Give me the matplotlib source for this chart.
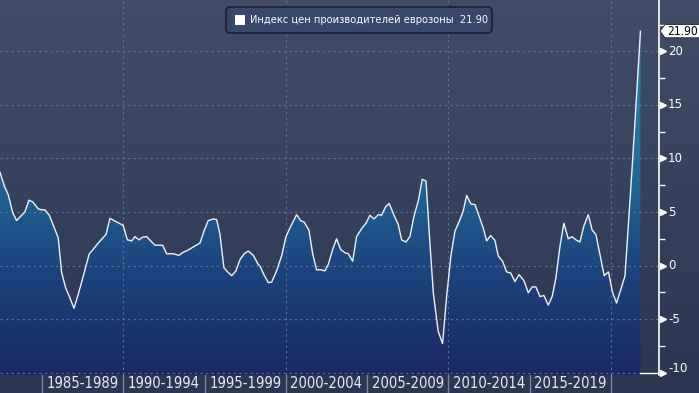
import numpy as np
import matplotlib
matplotlib.use('Agg')
import matplotlib.pyplot as plt
from matplotlib.colors import LinearSegmentedColormap
from matplotlib.patches import FancyBboxPatch, Polygon, Rectangle
from matplotlib import font_manager
from matplotlib.font_manager import FontProperties

# euro area producer prices, y/y %
years = [1982.42, 1982.72, 1982.93, 1983.20, 1983.44, 1983.75, 1983.95, 1984.20, 1984.43, 1984.77,
         1984.98, 1985.18, 1985.45, 1985.74, 1986.00, 1986.21, 1986.46, 1986.66, 1986.97, 1987.23,
         1987.54, 1987.91, 1988.15, 1988.46, 1988.94, 1989.18, 1989.49, 1990.00, 1990.25, 1990.52,
         1990.72, 1990.97, 1991.19, 1991.44, 1991.69, 1991.95, 1992.42, 1992.67, 1993.07, 1993.43,
         1993.69, 1993.94, 1994.21, 1994.72, 1994.96, 1995.23, 1995.54, 1995.74, 1995.95, 1996.19,
         1996.42, 1996.67, 1996.93, 1997.18, 1997.44, 1997.69, 1998.00, 1998.30, 1998.41, 1998.65,
         1998.92, 1999.13, 1999.43, 1999.74, 2000.01, 2000.25, 2000.66, 2000.91, 2001.13, 2001.42,
         2001.65, 2001.89, 2002.14, 2002.40, 2002.61, 2002.88, 2003.12, 2003.37, 2003.63, 2003.84,
         2004.11, 2004.35, 2004.66, 2004.93, 2005.17, 2005.42, 2005.68, 2005.89, 2006.14, 2006.36,
         2006.65, 2006.91, 2007.12, 2007.39, 2007.63, 2007.88, 2008.14, 2008.39, 2008.62, 2008.86,
         2009.07, 2009.37, 2009.64, 2009.89, 2010.15, 2010.40, 2010.71, 2010.91, 2011.12, 2011.38,
         2011.63, 2011.89, 2012.14, 2012.35, 2012.60, 2012.86, 2013.06, 2013.33, 2013.58, 2013.83,
         2014.09, 2014.34, 2014.64, 2014.91, 2015.15, 2015.38, 2015.63, 2015.87, 2016.14, 2016.38,
         2016.61, 2016.86, 2017.10, 2017.37, 2017.61, 2017.84, 2018.09, 2018.33, 2018.60, 2018.84,
         2019.07, 2019.32, 2019.58, 2019.84, 2020.10, 2020.34, 2020.61, 2020.86, 2021.12, 2021.33,
         2021.54, 2021.81]
values = [8.7, 7.3, 6.6, 4.95, 4.2, 4.7, 5.0, 6.1, 5.95, 5.3,
          5.2, 5.2, 4.7, 3.6, 2.6, -0.65, -2.1, -2.8, -4.0, -2.7,
          -1.0, 1.1, 1.5, 2.1, 2.9, 4.4, 4.15, 3.75, 2.4, 2.3,
          2.7, 2.4, 2.65, 2.7, 2.3, 1.9, 1.9, 1.1, 1.1, 0.95,
          1.25, 1.4, 1.65, 2.1, 3.2, 4.2, 4.35, 4.3, 2.9, -0.2,
          -0.6, -0.95, -0.5, 0.55, 1.1, 1.35, 0.95, 0.1, -0.05, -0.85,
          -1.6, -1.55, -0.5, 0.9, 2.7, 3.5, 4.75, 4.2, 4.05, 3.3,
          1.1, -0.4, -0.4, -0.5, 0.1, 1.5, 2.5, 1.5, 1.2, 1.1,
          0.4, 2.7, 3.45, 3.95, 4.7, 4.35, 4.75, 4.7, 5.5, 5.8,
          4.7, 3.85, 2.4, 2.2, 2.7, 4.6, 6.0, 8.05, 7.9, 2.1,
          -2.55, -6.15, -7.3, -2.9, 0.9, 3.2, 4.3, 5.1, 6.55, 5.75,
          5.7, 4.6, 3.5, 2.3, 2.8, 2.35, 0.9, 0.4, -0.6, -0.7,
          -1.5, -0.85, -1.4, -2.55, -2.0, -2.0, -2.9, -2.8, -3.7, -2.9,
          -1.15, 1.8, 3.95, 2.5, 2.7, 2.4, 2.2, 3.7, 4.75, 3.3,
          2.9, 1.0, -0.95, -0.6, -2.55, -3.5, -2.2, -0.95, 5.0, 9.9,
          15.2, 21.9]
series_name = 'Индекс цен производителей еврозоны'
last_label = '21.90'
period_starts = [1985, 1990, 1995, 2000, 2005, 2010, 2015]
period_labels = ['1985-1989', '1990-1994', '1995-1999', '2000-2004',
                 '2005-2009', '2010-2014', '2015-2019']
y_ticks = [-10, -5, 0, 5, 10, 15, 20]
y_minor = [-7.5, -2.5, 2.5, 7.5, 12.5, 17.5, 22.5]
grid_years = [1990, 2000, 2010, 2020]

assert len(years) == len(values)


def pick_font():
    # look for a narrow face, the original uses a condensed sans
    for pref in ['Liberation Sans Narrow', 'DejaVu Sans', 'Roboto Condensed', 'Open Sans Condensed',
                 'Roboto', 'Open Sans', 'Noto Sans']:
        for f in font_manager.fontManager.ttflist:
            if f.style != 'normal' or f.weight not in (400, 'normal', 'regular', 'book'):
                continue
            st = str(f.stretch)
            narrow = ('Narrow' in f.name or 'Condensed' in f.name or 'ondensed' in st
                      or (st.isdigit() and int(st) < 500))
            if pref in f.name and narrow and 'Mono' not in f.name:
                return FontProperties(fname=f.fname)
    return FontProperties(family='DejaVu Sans')


fp = pick_font()

W, H = 699, 393
fig = plt.figure(figsize=(W / 100, H / 100), dpi=100)
fig.patch.set_facecolor('#2c3850')

# whole-picture background gradient
bg_ax = fig.add_axes([0, 0, 1, 1], zorder=-1)
bg = LinearSegmentedColormap.from_list('bg', ['#2b3650', '#414d67'])
bg_ax.imshow(np.linspace(0, 1, 256).reshape(-1, 1), cmap=bg, origin='lower',
             extent=[0, 1, 0, 1], aspect='auto')
bg_ax.axis('off')

ax = fig.add_axes([0, 18 / H, 659 / W, 375 / H])
ax.set_facecolor('none')
x0, x1 = 1982.42, 2022.95
y0, y1 = -10.23, 24.81
ax.set_xlim(x0, x1)
ax.set_ylim(y0, y1)


def pos(v):
    return (v - y0) / (y1 - y0)


# gradient fill under the line
fill_cm = LinearSegmentedColormap.from_list('fill', [
    (0.0, '#1b2866'), (pos(0), '#1d4580'), (pos(8), '#206796'), (1.0, '#2790b8')])
poly = ax.fill_between(years, values, y0, color='none', lw=0)
im = ax.imshow(np.linspace(0, 1, 256).reshape(-1, 1), cmap=fill_cm, origin='lower',
               extent=[x0, x1, y0, y1], aspect='auto', zorder=1)
im.set_clip_path(poly.get_paths()[0], transform=ax.transData)
ax.set_xlim(x0, x1)
ax.set_ylim(y0, y1)

# grid
for v in y_ticks:
    ax.axhline(v, color='#5d7395', lw=0.8, ls=(0, (2, 3)), zorder=2)
for g in grid_years:
    ax.axvline(g, color='#5d7395', lw=0.8, ls=(0, (2, 3)), zorder=2)

ax.plot(years, values, color='#eef2f8', lw=1.0, zorder=4)
ax.plot([years[-1], x1], [-10, -10], color='white', lw=1, zorder=4)

# axes
for s in ['left', 'top', 'bottom']:
    ax.spines[s].set_visible(False)
ax.spines['right'].set_color('white')
ax.spines['right'].set_linewidth(1.2)
ax.set_xticks([])
ax.yaxis.tick_right()
ax.set_yticks(y_ticks)
ax.set_yticklabels([])
ax.set_yticks(y_minor, minor=True)
ax.tick_params(axis='y', which='major', length=0)
ax.tick_params(axis='y', which='minor', length=4, width=1, color='white', direction='out')
ytr = ax.get_yaxis_transform()
ax.plot([1 + 3.5 / 659] * len(y_ticks), y_ticks, ls='none', marker='>', ms=4.5,
        color='white', transform=ytr, clip_on=False, zorder=5)
tick_texts = []
for v in y_ticks:
    yy = v + 0.4 if v == y_ticks[0] else v
    tick_texts.append(ax.text(1 + 9 / 659, yy, str(v), transform=ytr, ha='left', va='center',
                              fontproperties=fp, fontsize=11, color='white', clip_on=False))

# last value flag
lv = values[-1]
flag = Polygon([(1 + 1 / 659, lv), (1 + 6 / 659, lv + 0.62), (1 + 45 / 659, lv + 0.62),
                (1 + 45 / 659, lv - 0.62), (1 + 6 / 659, lv - 0.62)],
               closed=True, facecolor='white', edgecolor='#222222', lw=0.6,
               transform=ytr, clip_on=False, zorder=6)
ax.add_patch(flag)
flag_text = ax.text(1 + 8 / 659, lv, last_label, transform=ytr, ha='left', va='center',
                    fontproperties=fp, fontsize=10.5, color='black', zorder=7, clip_on=False)

# period labels in the bottom band
xtr = ax.get_xaxis_transform()
band = 18 / 375
for yr in period_starts + [2020]:
    ax.plot([yr, yr], [0, -band], color='#7587a5', lw=1, transform=xtr, clip_on=False)
period_texts = []
for yr, lab in zip(period_starts, period_labels):
    period_texts.append(ax.text(yr + 2.5, -band / 2, lab, transform=xtr, ha='center', va='center',
                                fontproperties=fp, fontsize=11, color='#e6ebf2', clip_on=False))

# legend box
lx, ly, lw_, lh = 226, 7, 266, 26
fig.patches.append(FancyBboxPatch((lx / W, 1 - (ly + lh) / H), lw_ / W, lh / H,
                                  boxstyle='round,pad=0,rounding_size=0.006',
                                  mutation_aspect=W / H, facecolor='#36476a',
                                  edgecolor='#141a26', lw=1.0, transform=fig.transFigure))
fig.patches.append(Rectangle((235 / W, 1 - 25 / H), 10 / W, 10 / H, facecolor='white',
                             edgecolor='none', transform=fig.transFigure))
legend_text = fig.text(250 / W, 1 - 20 / H, series_name + '  ' + last_label, ha='left',
                       va='center', fontproperties=fp, fontsize=10, color='white')

# size the texts close to the widths they have in the original
fig.canvas.draw()
r = fig.canvas.get_renderer()


def fit(texts, sample, target):
    w = sample.get_window_extent(r).width
    s = sample.get_fontsize() * target / w
    for t in texts:
        t.set_fontsize(s)


fit(period_texts, period_texts[0], 72)
fit(tick_texts, tick_texts[-1], 15)
fit([flag_text], flag_text, 31)
fit([legend_text], legend_text, 238)

fig.savefig('out.png', dpi=100, facecolor=fig.get_facecolor())
